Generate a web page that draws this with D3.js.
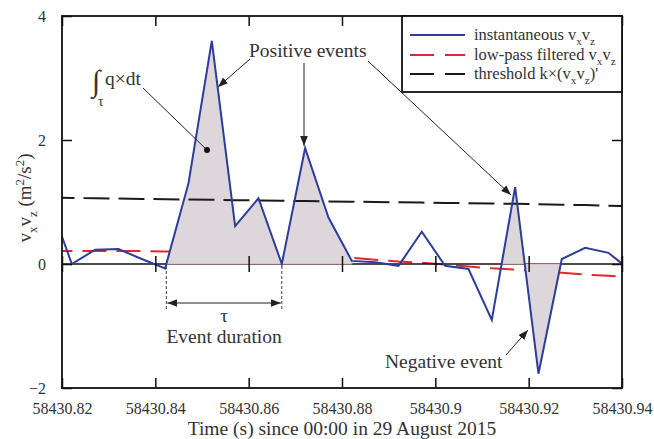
<!DOCTYPE html>
<html>
<head>
<meta charset="utf-8">
<script src="https://cdn.jsdelivr.net/npm/d3@7"></script>
<style>
  html, body { margin: 0; padding: 0; background: #fff; }
  svg { display: block; }
</style>
</head>
<body>
<div id="chart"></div>
<script>
// ---- data ----
const times = [58430.8171, 58430.8221, 58430.8271, 58430.8321, 58430.8371, 58430.8421,
  58430.8471, 58430.8521, 58430.8571, 58430.8621, 58430.8671, 58430.8721, 58430.8771,
  58430.8821, 58430.8871, 58430.8921, 58430.8971, 58430.9021, 58430.9071, 58430.9121,
  58430.9171, 58430.9221, 58430.9271, 58430.9321, 58430.9371, 58430.9421];
const instantaneous = [1.05, 0.0, 0.23, 0.24, 0.08, -0.07, 1.3, 3.6, 0.61, 1.06, 0.0, 1.87, 0.75,
  0.05, 0.03, -0.03, 0.52, -0.03, -0.08, -0.9, 1.24, -1.77, 0.08, 0.26, 0.18, -0.12];
const lowpass = [0.21, 0.21, 0.21, 0.21, 0.21, 0.2, 0.2, 0.19, 0.18, 0.17, 0.16, 0.14, 0.12,
  0.1, 0.07, 0.04, 0.02, -0.01, -0.04, -0.07, -0.09, -0.12, -0.14, -0.17, -0.19, -0.22];
const threshold = [1.07, 1.065, 1.06, 1.055, 1.05, 1.045, 1.04, 1.035, 1.03, 1.025, 1.02, 1.015,
  1.01, 1.005, 1.0, 0.995, 0.99, 0.985, 0.98, 0.975, 0.97, 0.965, 0.955, 0.95, 0.94, 0.935];
const eventStart = [58430.84236, 58430.8671, 58430.9142, 58430.9192];
const eventEnd   = [58430.8671, 58430.8821, 58430.9192, 58430.9269];
const xTicks = [58430.82, 58430.84, 58430.86, 58430.88, 58430.9, 58430.92, 58430.94];
const xTickLabels = ["58430.82", "58430.84", "58430.86", "58430.88", "58430.9", "58430.92", "58430.94"];
const yTicks = [-2, 0, 2, 4];

// ---- layout ----
const W = 654, H = 439;
const m = { left: 62, top: 16, right: 32, bottom: 51 };
const iw = W - m.left - m.right, ih = H - m.top - m.bottom;
const FONT = '"Liberation Serif"';

const svg = d3.select("#chart").append("svg").attr("width", W).attr("height", H);
const defs = svg.append("defs");
defs.append("clipPath").attr("id", "clip").append("rect")
  .attr("x", m.left).attr("y", m.top).attr("width", iw).attr("height", ih);
defs.append("marker").attr("id", "arr").attr("viewBox", "0 0 10 10")
  .attr("refX", 10).attr("refY", 5).attr("markerWidth", 10).attr("markerHeight", 10)
  .attr("markerUnits", "userSpaceOnUse").attr("orient", "auto-start-reverse")
  .append("path").attr("d", "M0,1.2 L10,5 L0,8.8 Z").attr("fill", "#222");

const x = d3.scaleLinear().domain([58430.82, 58430.94]).range([m.left, m.left + iw]);
const y = d3.scaleLinear().domain([-2, 4]).range([m.top + ih, m.top]);

const pts = (arr) => times.map((t, i) => [t, arr[i]]);
const line = d3.line().x(d => x(d[0])).y(d => y(d[1]));
const plot = svg.append("g").attr("clip-path", "url(#clip)");

// red low-pass (under the fill)
plot.append("path").attr("d", line(pts(lowpass))).attr("fill", "none")
  .attr("stroke", "#e3262d").attr("stroke-width", 2).attr("stroke-dasharray", "24,10");

// zero line and its ticks
plot.append("line").attr("x1", m.left).attr("x2", m.left + iw).attr("y1", y(0)).attr("y2", y(0))
  .attr("stroke", "#111").attr("stroke-width", 1.6);
svg.append("g").attr("transform", `translate(0,${y(0)})`)
  .call(d3.axisBottom(x).tickValues(xTicks).tickSize(8).tickFormat(""))
  .call(g => g.select(".domain").remove())
  .call(g => g.selectAll(".tick line").attr("y1", -8).attr("stroke", "#111").attr("stroke-width", 1.5));

// event fills
function interp(t) {
  const i = d3.bisectRight(times, t) - 1;
  const f = (t - times[i]) / (times[i + 1] - times[i]);
  return instantaneous[i] + f * (instantaneous[i + 1] - instantaneous[i]);
}
const area = d3.area().x(d => x(d[0])).y0(y(0)).y1(d => y(d[1]));
eventStart.forEach((s, k) => {
  const e = eventEnd[k];
  const seg = [[s, interp(s)]];
  times.forEach((t, i) => { if (t > s + 1e-7 && t < e - 1e-7) seg.push([t, instantaneous[i]]); });
  seg.push([e, interp(e)]);
  plot.append("path").attr("d", area(seg)).attr("fill", "#ddd6da")
    .attr("stroke", "#e2a4ac").attr("stroke-width", 0.8);
});

// threshold
plot.append("path").attr("d", line(pts(threshold))).attr("fill", "none")
  .attr("stroke", "#1a1a1a").attr("stroke-width", 2).attr("stroke-dasharray", "26,9");
// instantaneous
plot.append("path").attr("d", line(pts(instantaneous))).attr("fill", "none")
  .attr("stroke", "#2d3e9a").attr("stroke-width", 2).attr("stroke-linejoin", "miter");

// ---- axes frame ----
const tickStyle = g => g.selectAll(".tick line").attr("stroke", "#111").attr("stroke-width", 1.5);
const textStyle = g => g.selectAll("text").attr("font-size", 16);
svg.append("g").attr("transform", `translate(0,${m.top + ih})`)
  .call(d3.axisBottom(x).tickValues(xTicks).tickSizeInner(-10).tickSizeOuter(0)
    .tickFormat((d, i) => xTickLabels[i]).tickPadding(15))
  .call(g => g.select(".domain").remove()).call(tickStyle).call(textStyle);
svg.append("g").attr("transform", `translate(0,${m.top})`)
  .call(d3.axisTop(x).tickValues(xTicks).tickSizeInner(-10).tickSizeOuter(0).tickFormat(""))
  .call(g => g.select(".domain").remove()).call(tickStyle);
svg.append("g").attr("transform", `translate(${m.left},0)`)
  .call(d3.axisLeft(y).tickValues(yTicks).tickSizeInner(-10).tickSizeOuter(0).tickPadding(16)
    .tickFormat(d3.format("d")))
  .call(g => g.select(".domain").remove()).call(tickStyle).call(textStyle);
svg.append("g").attr("transform", `translate(${m.left + iw},0)`)
  .call(d3.axisRight(y).tickValues(yTicks).tickSizeInner(-10).tickSizeOuter(0).tickFormat(""))
  .call(g => g.select(".domain").remove()).call(tickStyle);
svg.append("rect").attr("x", m.left).attr("y", m.top).attr("width", iw).attr("height", ih)
  .attr("fill", "none").attr("stroke", "#111").attr("stroke-width", 1.8);

// rich text helper (shifts in px relative to base size)
function rich(sel, size, parts) {
  sel.attr("font-size", size);
  let shift = 0;
  parts.forEach(([s, kind]) => {
    const target = kind === "sub" ? 0.3 * size : kind === "sup" ? -0.38 * size : 0;
    const ts = sel.append("tspan").text(s);
    if (target !== shift) ts.attr("dy", target - shift);
    if (kind !== "n") ts.attr("font-size", size * 0.68);
    shift = target;
  });
  return sel;
}

// axis titles
svg.append("text").attr("x", x(58430.88)).attr("y", 435).attr("text-anchor", "middle")
  .attr("font-size", 19.5).text("Time (s) since 00:00 in 29 August 2015");
rich(svg.append("text").attr("transform", "translate(31,198) rotate(-90)")
  .attr("text-anchor", "middle"), 19,
  [["v", "n"], ["x", "sub"], ["v", "n"], ["z", "sub"], [" (m", "n"], ["2", "sup"], ["/s", "n"], ["2", "sup"], [")", "n"]]);

// ---- legend ----
const lg = svg.append("g");
lg.append("rect").attr("x", 402).attr("y", m.top).attr("width", m.left + iw - 402).attr("height", 76)
  .attr("fill", "#fff").attr("stroke", "#111").attr("stroke-width", 1.8);
const legendItems = [
  { color: "#2d3e9a", dash: null, yy: 35,
    parts: [["instantaneous v", "n"], ["x", "sub"], ["v", "n"], ["z", "sub"]] },
  { color: "#e3262d", dash: "24,11", yy: 55,
    parts: [["low-pass filtered v", "n"], ["x", "sub"], ["v", "n"], ["z", "sub"]] },
  { color: "#1a1a1a", dash: "24,11", yy: 74,
    parts: [["threshold k×(v", "n"], ["x", "sub"], ["v", "n"], ["z", "sub"], [")'", "n"]] }
];
legendItems.forEach(it => {
  const l = lg.append("line").attr("x1", 410).attr("x2", 465).attr("y1", it.yy).attr("y2", it.yy)
    .attr("stroke", it.color).attr("stroke-width", 2);
  if (it.dash) l.attr("stroke-dasharray", it.dash);
  rich(lg.append("text").attr("x", 474).attr("y", it.yy + 5), 16.5, it.parts);
});

// ---- annotations ----
const ann = svg.append("g");
const arrow = (x1, y1, x2, y2, head) => {
  const l = ann.append("line").attr("x1", x1).attr("y1", y1).attr("x2", x2).attr("y2", y2)
    .attr("stroke", "#222").attr("stroke-width", 1);
  if (head) l.attr("marker-end", "url(#arr)");
  return l;
};
// integral label
ann.append("text").attr("x", 92).attr("y", 91).attr("font-size", 30).text("∫");
ann.append("text").attr("x", 98).attr("y", 106).attr("font-size", 14).text("τ");
ann.append("text").attr("x", 105).attr("y", 85).attr("font-size", 19.5).text("q×dt");
arrow(143, 88, 207, 150, false);
ann.append("circle").attr("cx", 207).attr("cy", 150).attr("r", 3).attr("fill", "#111");

// positive events
ann.append("text").attr("x", 249).attr("y", 57).attr("font-size", 19.5).text("Positive events");
arrow(250, 59, 218, 87, true);
arrow(304, 63, 304, 146, true);
arrow(368, 61, 511, 195, true);

// negative event
ann.append("text").attr("x", 385).attr("y", 368).attr("font-size", 19.5).text("Negative event");
arrow(506, 355, 528, 330, true);

// event duration
const xs = x(eventStart[0]), xe = x(eventEnd[0]);
[xs, xe].forEach(xx => ann.append("line").attr("x1", xx).attr("x2", xx)
  .attr("y1", y(0) + 2).attr("y2", 310).attr("stroke", "#444").attr("stroke-width", 1)
  .attr("stroke-dasharray", "3,2"));
ann.append("line").attr("x1", xs + 1).attr("x2", xe - 1).attr("y1", 303).attr("y2", 303)
  .attr("stroke", "#222").attr("stroke-width", 1)
  .attr("marker-start", "url(#arr)").attr("marker-end", "url(#arr)");
ann.append("text").attr("x", (xs + xe) / 2).attr("y", 322).attr("text-anchor", "middle")
  .attr("font-size", 19.5).text("τ");
ann.append("text").attr("x", (xs + xe) / 2).attr("y", 343).attr("text-anchor", "middle")
  .attr("font-size", 19.5).text("Event duration");

// apply the serif face and text colour everywhere
svg.selectAll("text").style("font-family", FONT).style("fill", "#333");
</script>
</body>
</html>
